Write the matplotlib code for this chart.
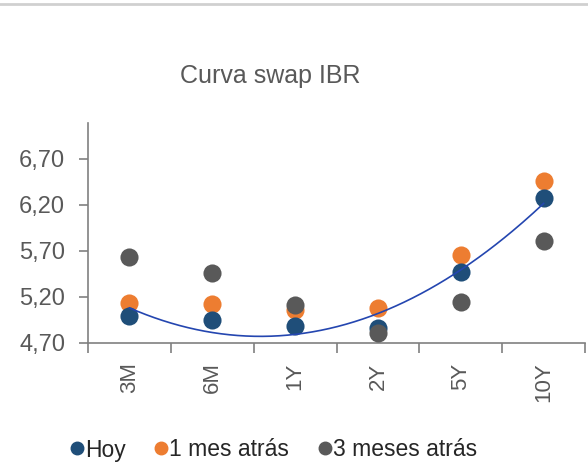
import matplotlib.pyplot as plt
import matplotlib.lines as mlines
import numpy as np

plt.rcParams['font.family'] = ['Liberation Sans', 'DejaVu Sans']

tenors = ['3M', '6M', '1Y', '2Y', '5Y', '10Y']
hoy = [4.99, 4.95, 4.88, 4.86, 5.47, 6.27]
mes_1 = [5.13, 5.12, 5.06, 5.08, 5.66, 6.46]
meses_3 = [5.63, 5.46, 5.11, 4.81, 5.15, 5.81]
y_ticks = [4.70, 5.20, 5.70, 6.20, 6.70]

BLUE = '#1F4E79'
ORANGE = '#ED7D31'
GRAY = '#595959'
TEXT = '#595959'
AXIS = '#808080'

fig = plt.figure(figsize=(5.88, 4.67), dpi=100)
ax = fig.add_axes([88 / 588, 1 - 343 / 467, (585 - 88) / 588, (343 - 123) / 467])

xs = np.arange(len(tenors))
ms = 170
ax.scatter(xs, mes_1, s=ms, color=ORANGE, label='1 mes atrás', zorder=2, linewidths=0)
ax.scatter(xs, hoy, s=ms, color=BLUE, label='Hoy', zorder=3, linewidths=0)
ax.scatter(xs, meses_3, s=ms, color=GRAY, label='3 meses atrás', zorder=4, linewidths=0)

# polynomial trendline on "Hoy"
coef = np.polyfit(xs + 1, hoy, 2)
xf = np.linspace(1, len(tenors), 200)
ax.plot(xf - 1, np.polyval(coef, xf), color='#2446B0', lw=1.2, zorder=5)

ax.set_xlim(-0.5, len(tenors) - 0.5)
ax.set_ylim(4.70, 7.09)

ax.set_xticks(np.arange(-0.5, len(tenors), 1.0))
ax.set_xticklabels([])
ax.set_xticks(xs, minor=True)
ax.set_xticklabels(tenors, minor=True, rotation=90, fontsize=16, color=TEXT)
ax.tick_params(axis='x', which='major', length=7, width=1.2, color=AXIS, direction='out')
ax.tick_params(axis='x', which='minor', length=0, pad=14)

ax.set_yticks(y_ticks)
ax.set_yticklabels([f'{v:.2f}'.replace('.', ',') for v in y_ticks], fontsize=17, color=TEXT)
ax.tick_params(axis='y', length=6.5, width=1.2, color=AXIS, pad=10)

for s in ['top', 'right']:
    ax.spines[s].set_visible(False)
for s in ['left', 'bottom']:
    ax.spines[s].set_color(AXIS)
    ax.spines[s].set_linewidth(1.2)

fig.text(270 / 588, 1 - 76 / 467, 'Curva swap IBR', ha='center', va='center',
         fontsize=18, color=TEXT)

handles = [mlines.Line2D([], [], ls='', marker='o', ms=9, color=c) for c in (BLUE, ORANGE, GRAY)]
fig.legend(handles, ['Hoy', '1 mes atrás', '3 meses atrás'], loc='center',
           bbox_to_anchor=(273 / 588, 1 - 450 / 467), ncol=3, frameon=False,
           fontsize=16.5, handletextpad=0.0, columnspacing=1.2, handlelength=0.7,
           labelcolor='#262626')

fig.add_artist(mlines.Line2D([0, 1], [1 - 4 / 467, 1 - 4 / 467], color='#D0D0D0', lw=2))

fig.savefig('out.png', dpi=100)
